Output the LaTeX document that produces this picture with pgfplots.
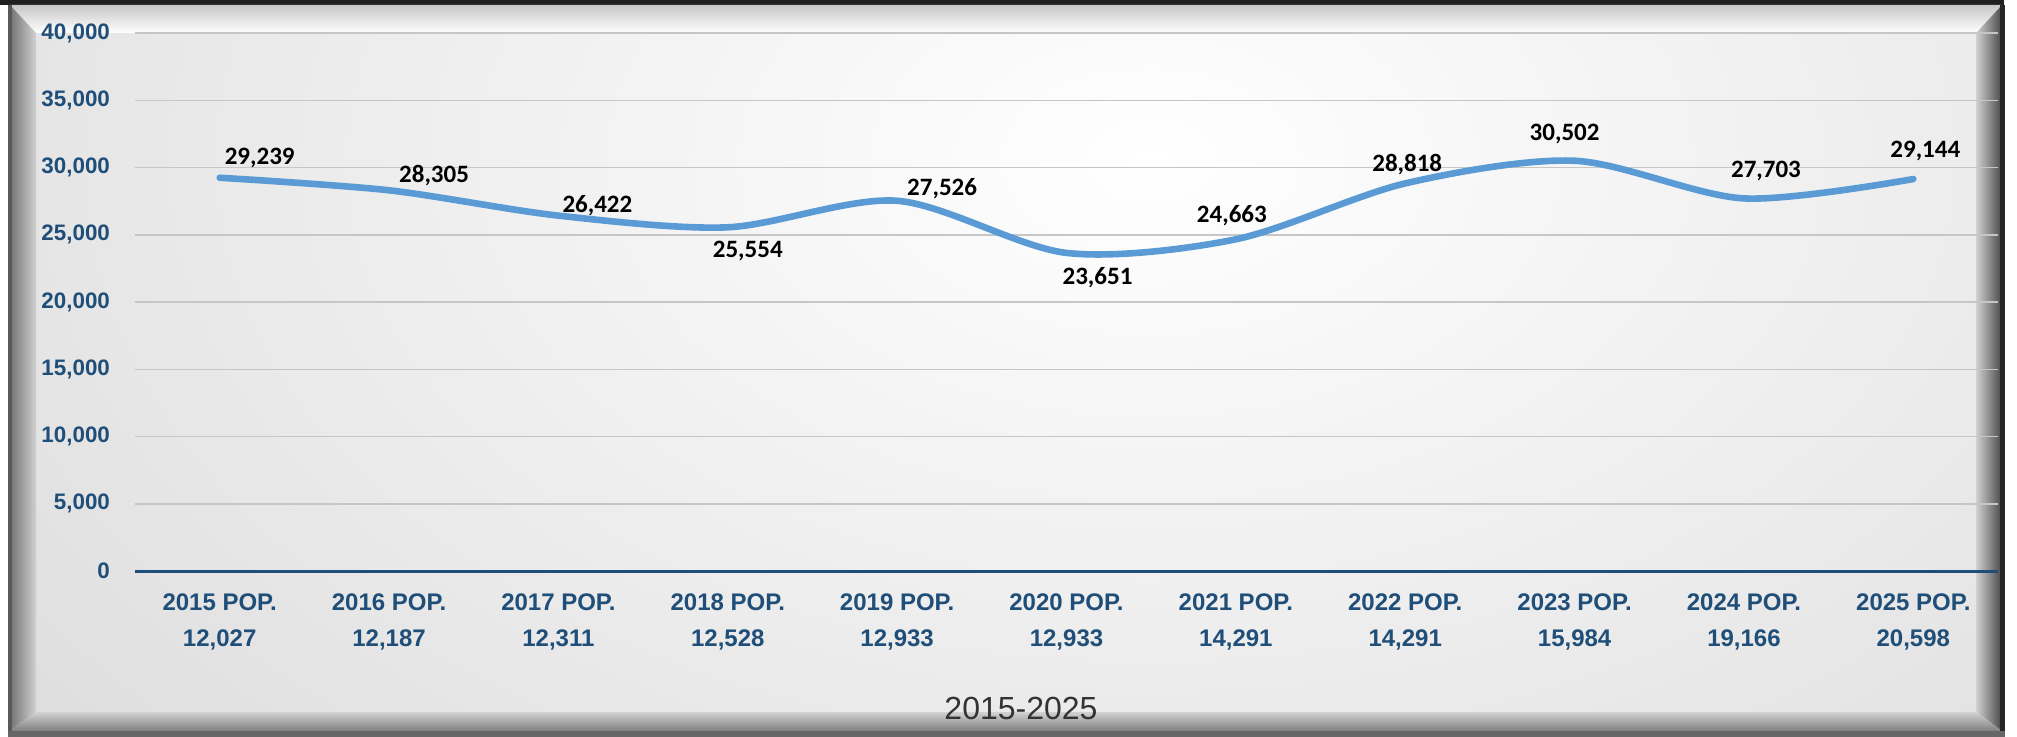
\documentclass[border=0pt]{standalone}
\usepackage{fontspec}
\setmainfont{Liberation Sans}
\newfontfamily\carlito{Carlito}
\usepackage{pgfplots}
\pgfplotsset{compat=1.18}
\usepackage{pgfplotstable}
\definecolor{tickblue}{HTML}{1F4E79}
\definecolor{lineblue}{HTML}{5B9BD5}
\definecolor{gridgray}{HTML}{C6C6C6}
\definecolor{titlegray}{HTML}{333333}
\pgfplotsset{/pgf/number format/1000 sep={,}, /pgf/number format/assume math mode=true}

\pgfplotstableread{
x y dx dy
0 29239 20 10
1 28305 22.5 7.5
2 26422 19.5 5
3 25554 10 -12
4 27526 22.5 6
5 23651 15.5 -12.5
6 24663 -2 12
7 28818 1 9.5
8 30502 -5 13.5
9 27703 11 13.5
10 29144 6 14
}\datatable

\begin{document}
\begin{tikzpicture}
\useasboundingbox (0,0) rectangle (1008.5pt,-368.5pt);
\begin{scope}[x=0.5pt,y=-0.5pt]
  \fill[white] (0,0) rectangle (2017,737);
  \fill[black!88] (0,0) rectangle (2004,5);
  \begin{scope}
    \clip (36,33) rectangle (1976,712);
    \fill[black!18] (36,33) rectangle (1976,712);
    \shade[inner color=white, outer color=black!18] (1150,160) ellipse [x radius=2000, y radius=1250];
  \end{scope}
  % bevels
  \shade[top color=black!22, bottom color=white] (10,5) -- (2002,5) -- (1976,33) -- (36,33) -- cycle;
  \shade[left color=black!55, right color=black!18] (10,5) -- (36,33) -- (36,712) -- (10,731) -- cycle;
  \shade[left color=black!18, right color=black!72] (2002,5) -- (2002,731) -- (1976,712) -- (1976,33) -- cycle;
  \shade[top color=black!18, bottom color=black!50] (10,731) -- (36,712) -- (1976,712) -- (2002,731) -- cycle;
  \fill[black!65] (8,5) rectangle (12,737);
  \fill[black!85] (2000,5) rectangle (2005,737);
  \fill[black!60] (8,731) rectangle (2005,737);
\end{scope}

\begin{axis}[
  at={(67.5pt,-285.5pt)}, anchor=south west,
  scale only axis, width=931.5pt, height=269pt,
  xmin=-0.5, xmax=10.5, ymin=0, ymax=40000,
  xtick={0,...,10},
  xticklabels={{2015 POP.\\12,027},{2016 POP.\\12,187},{2017 POP.\\12,311},{2018 POP.\\12,528},{2019 POP.\\12,933},{2020 POP.\\12,933},{2021 POP.\\14,291},{2022 POP.\\14,291},{2023 POP.\\15,984},{2024 POP.\\19,166},{2025 POP.\\20,598}},
  ytick={0,5000,...,40000},
  scaled y ticks=false,
  axis x line=bottom, axis y line=left,
  y axis line style={draw=none},
  x axis line style={draw=tickblue, line width=1.5pt, -},
  major tick length=0pt,
  ymajorgrids, grid style={gridgray, line width=0.75pt},
  yticklabel style={font=\bfseries\fontsize{11.2}{13}\selectfont, text=tickblue, xshift=-9pt},
  xticklabel style={align=center, font=\bfseries\fontsize{12}{18}\selectfont, text=tickblue, yshift=-8pt},
  clip=false,
]
\addplot[lineblue, line width=3.3pt, smooth, tension=0.5, line cap=round, line join=round,
  nodes near coords={\pgfmathprintnumber{\pgfplotspointmeta}},
  visualization depends on={\thisrow{dx}\as\ldx},
  visualization depends on={\thisrow{dy}\as\ldy},
  every node near coord/.append style={anchor=center, xshift=\ldx pt, yshift=\ldy pt, font=\carlito\bfseries\fontsize{12.5}{14}\selectfont, text=black},
] table[x=x,y=y] {\datatable};
\end{axis}
\node[font=\fontsize{16}{19}\selectfont, text=titlegray] at (510.5pt,-354pt) {2015-2025};
\end{tikzpicture}
\end{document}
